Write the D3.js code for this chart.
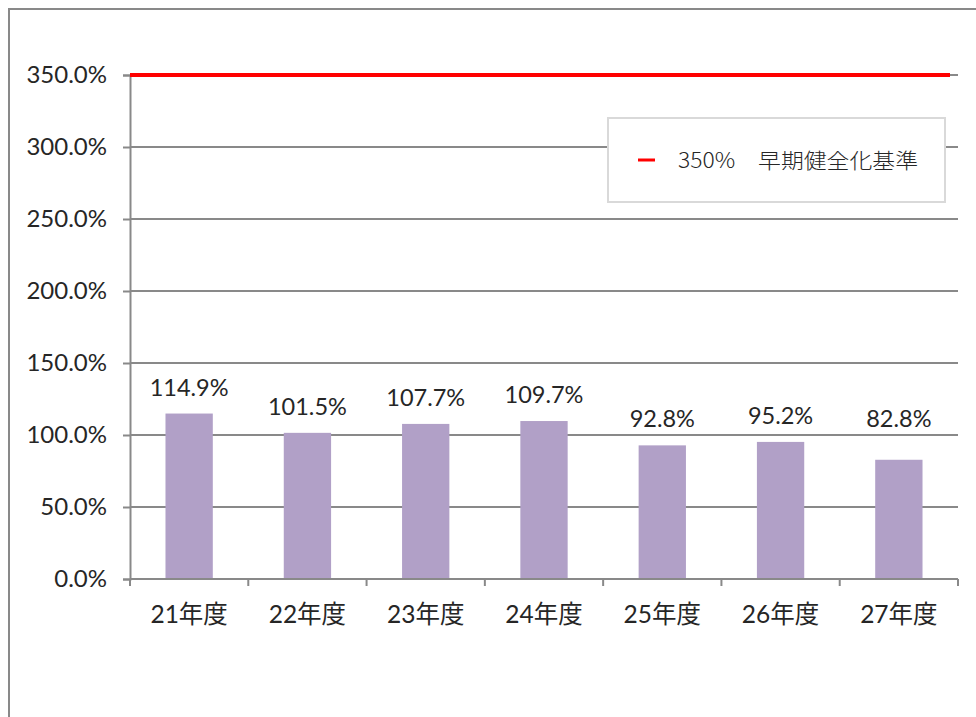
<!DOCTYPE html>
<html><head><meta charset="utf-8">
<script src="https://cdn.jsdelivr.net/npm/d3@7"></script>
<style>
html,body{margin:0;padding:0;background:#fff;}
svg{display:block;}
text{fill:#262626;}
</style></head>
<body>
<svg id="chart" width="976" height="717"></svg>
<script>
const categories = ["21年度","22年度","23年度","24年度","25年度","26年度","27年度"];
const ratios = [114.9, 101.5, 107.7, 109.7, 92.8, 95.2, 82.8];
const benchmarkValue = 350;
const benchmarkLabel = "350%\u3000早期健全化基準";
const yTicks = [0, 50, 100, 150, 200, 250, 300, 350];
// extra upward nudge of individual data labels (pixels), as placed in the original
const labelNudge = [0, 0, 0, 0, 0, 0, 15];

const svg = d3.select("#chart");
const margin = {left:130, right:18, top:75, bottom:138};
const W = 976, H = 717;

// outer frame (cropped)
svg.append("path").attr("d", `M9,${H} L9,9 L${W},9`).attr("fill","none").attr("stroke","#898989").attr("stroke-width",2);

const x = d3.scaleBand().domain(categories).range([margin.left, W - margin.right]).paddingInner(0.6).paddingOuter(0.3);
const y = d3.scaleLinear().domain([0, 350]).range([H - margin.bottom, margin.top]);

const grey = "#898989";
// gridlines
svg.append("g").selectAll("line").data(yTicks.filter(d=>d>0)).join("line")
  .attr("x1", margin.left).attr("x2", W - margin.right)
  .attr("y1", d=>y(d)).attr("y2", d=>y(d))
  .attr("stroke", grey).attr("stroke-width", 2);

// y axis
const yAxis = d3.axisLeft(y).tickValues(yTicks).tickSize(7).tickPadding(16).tickFormat(d=>d3.format(".1f")(d)+"%");
const gy = svg.append("g").attr("transform", `translate(${margin.left},0)`).call(yAxis);
gy.select(".domain").attr("stroke", grey).attr("stroke-width", 2);
gy.selectAll(".tick line").attr("stroke", grey).attr("stroke-width", 2);
gy.selectAll("text").attr("font-family","Lato, 'Noto Sans CJK JP', sans-serif").attr("font-size", 24).style("fill","#262626");

// bars
svg.append("g").selectAll("rect").data(ratios).join("rect")
  .attr("x", (d,i)=>x(categories[i])).attr("width", x.bandwidth())
  .attr("y", d=>y(d)).attr("height", d=>y(0)-y(d))
  .attr("fill", "#b1a0c7");

// x axis baseline & ticks at band boundaries
const y0 = y(0);
svg.append("line").attr("x1", margin.left).attr("x2", W - margin.right).attr("y1", y0).attr("y2", y0).attr("stroke", grey).attr("stroke-width", 2);
const bounds = categories.map(c=>x(c) - x.step()*x.paddingOuter()).concat([W - margin.right]);
svg.append("g").selectAll("line").data(bounds).join("line")
  .attr("x1", d=>d).attr("x2", d=>d).attr("y1", y0).attr("y2", y0 + 7)
  .attr("stroke", grey).attr("stroke-width", 2);

// category labels
svg.append("g").selectAll("text").data(categories).join("text")
  .attr("x", d=>x(d) + x.bandwidth()/2).attr("y", y0 + 44)
  .attr("text-anchor","middle").attr("font-family","Lato, 'Noto Sans CJK JP', sans-serif").attr("font-size", 24.5)
  .text(d=>d);

// data labels
svg.append("g").selectAll("text").data(ratios).join("text")
  .attr("x", (d,i)=>x(categories[i]) + x.bandwidth()/2).attr("y", (d,i)=>y(d) - 18 - labelNudge[i])
  .attr("text-anchor","middle").attr("font-family","Lato, sans-serif").attr("font-size", 23.5)
  .text(d=>d.toFixed(1)+"%");

// benchmark line
svg.append("line").attr("x1", margin.left).attr("x2", W - margin.right - 8)
  .attr("y1", y(benchmarkValue)).attr("y2", y(benchmarkValue))
  .attr("stroke", "#ff0000").attr("stroke-width", 4);

// legend
const lg = svg.append("g").attr("transform","translate(608,118)");
lg.append("rect").attr("width", 337).attr("height", 84).attr("fill","#fff").attr("stroke","#d9d9d9").attr("stroke-width",2);
lg.append("line").attr("x1", 30).attr("x2", 47).attr("y1", 42).attr("y2", 42).attr("stroke","#ff0000").attr("stroke-width",3);
lg.append("text").attr("x", 70).attr("y", 50).attr("font-family","'Noto Sans CJK JP', sans-serif").attr("font-size", 21).attr("font-weight", 300)
  .attr("textLength", 240).attr("lengthAdjust","spacingAndGlyphs")
  .style("fill","#262626").text(benchmarkLabel);
</script>
</body></html>
